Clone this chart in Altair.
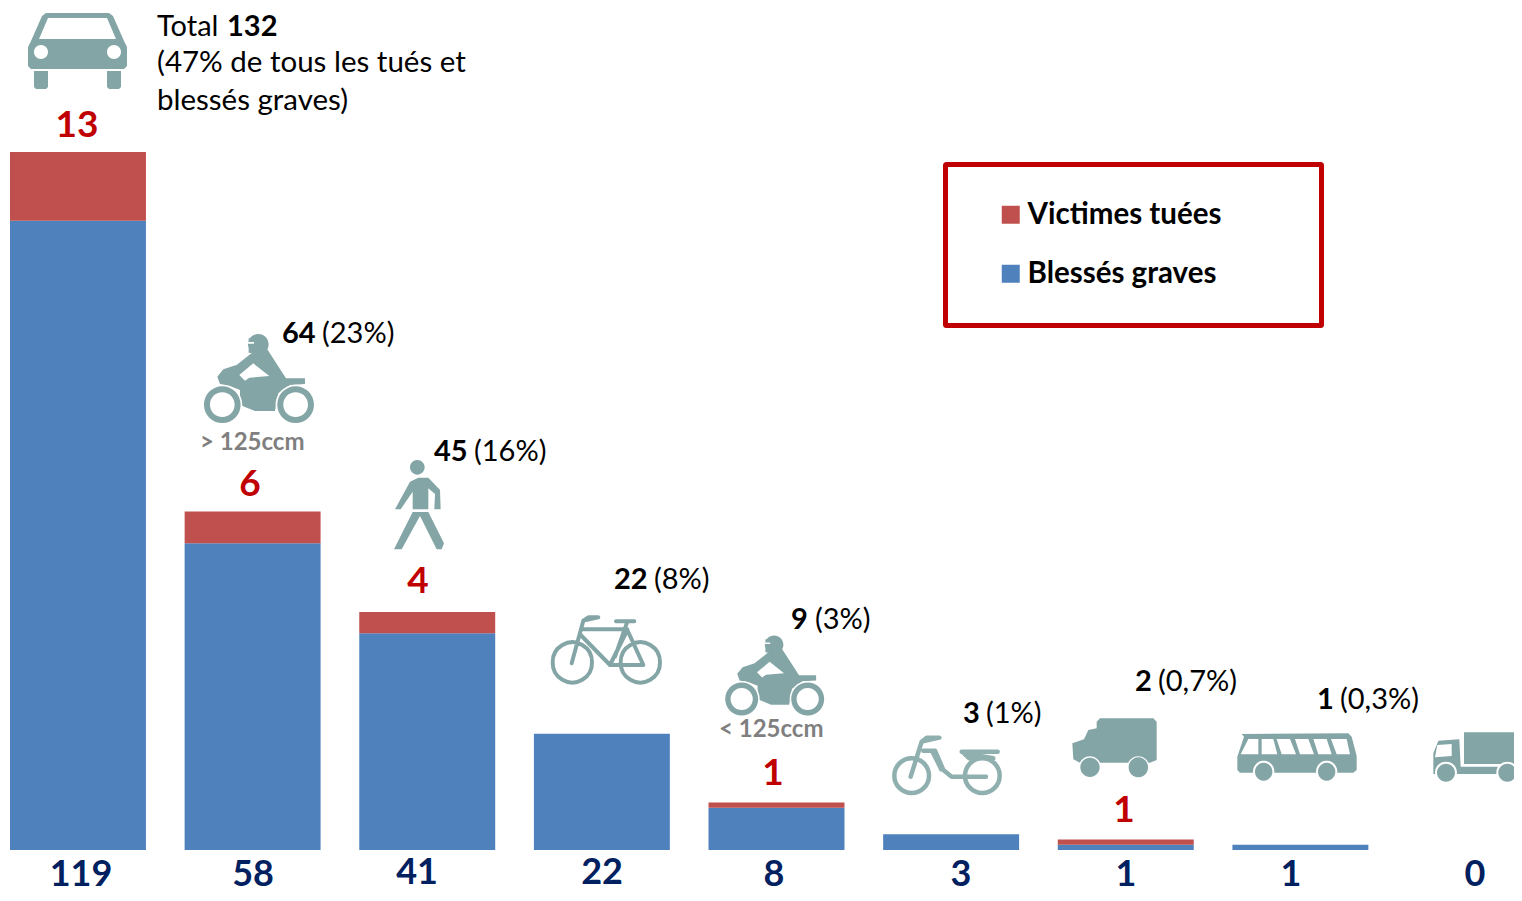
import altair as alt
import pandas as pd

# ---------- data ----------
categories = ["Voiture", "Moto >125ccm", "Piétons", "Vélo", "Moto <125ccm",
              "Cyclomoteur", "Camionnette", "Bus", "Camion"]
blesses = [119, 58, 41, 22, 8, 3, 1, 1, 0]
tues = [13, 6, 4, 0, 1, 0, 1, 0, 0]
totaux = [132, 64, 45, 22, 9, 3, 2, 1, 0]
parts = ["47%", "23%", "16%", "8%", "3%", "1%", "0,7%", "0,3%", ""]
series = ["Victimes tuées", "Blessés graves"]
series_colors = ["#C0504D", "#4F81BD"]

TEAL = "#84A5A6"
TEAL2 = "#90AFAF"
RED = "#C00000"
NAVY = "#002060"
GREY = "#7F7F7F"
FONT = "Lato"
ONE = alt.Data(values=[{"a": 0}])

# ---------- bars ----------
rows = []
for c, b, t in zip(categories, blesses, tues):
    rows.append({"cat": c, "serie": series[1], "n": b, "rang": 0})
    rows.append({"cat": c, "serie": series[0], "n": t, "rang": 1})
df = pd.DataFrame(rows)

bars = alt.Chart(df).mark_bar(opacity=1).encode(
    x=alt.X("cat:N", sort=categories, axis=None,
            scale=alt.Scale(range=[2, 1535], paddingInner=0.2215, paddingOuter=0)),
    y=alt.Y("n:Q", stack="zero", axis=None,
            scale=alt.Scale(domain=[-8.132, 159.23], nice=False, zero=False)),
    order=alt.Order("rang:Q"),
    color=alt.Color("serie:N",
                    scale=alt.Scale(domain=series, range=series_colors),
                    legend=alt.Legend(title=None, orient="none", legendX=988, legendY=192,
                                      padding=0, symbolType="square", symbolSize=324,
                                      symbolStrokeWidth=0, symbolOpacity=1, labelOffset=2,
                                      labelFont=FONT, labelFontSize=29.5, labelFontWeight="bold",
                                      labelColor="#000000", rowPadding=28, labelLimit=400)),
)


# ---------- helpers ----------
def txt(x, y, s, size=29, weight="normal", color="#000000", align="left"):
    return alt.Chart(ONE).mark_text(
        text=s, font=FONT, fontSize=size, fontWeight=weight, color=color,
        align=align, baseline="alphabetic",
    ).encode(x=alt.value(x - 8), y=alt.value(y - 8))


def poly(pts, f):
    return "M" + "L".join(f"{f(p)[0]:.2f},{f(p)[1]:.2f}" for p in pts) + "Z"


def disk(c, r, f, k, ccw=False):
    x, y = f(c)
    r = r * k
    s = 0 if ccw else 1
    return (f"M{x - r:.2f},{y:.2f}A{r:.2f},{r:.2f} 0 1 {s} {x + r:.2f},{y:.2f}"
            f"A{r:.2f},{r:.2f} 0 1 {s} {x - r:.2f},{y:.2f}Z")


def shape(path, color, stroke=None):
    if stroke:
        m = alt.Chart(ONE).mark_point(shape=path, size=4, filled=False, opacity=1, color=color,
                                      strokeWidth=stroke, strokeCap="round", strokeJoin="round")
    else:
        m = alt.Chart(ONE).mark_point(shape=path, size=4, filled=True, opacity=1, color=color,
                                      strokeWidth=0)
    return m.encode(x=alt.value(-8), y=alt.value(-8))


def crop(ox, oy):
    return lambda p: (ox + p[0] / 3, oy + p[1] / 3)


icons = []

# car
g = lambda p: p
icons.append(shape(poly([(46, 13), (109, 13), (113, 16), (124, 41), (127, 47), (127, 66), (124, 69),
                         (31, 69), (28, 66), (28, 47), (31, 41), (42, 16)], g)
                   + poly([(34, 71), (48, 71), (48, 87), (46, 89), (36, 89), (34, 87)], g)
                   + poly([(107, 71), (121, 71), (121, 87), (119, 89), (109, 89), (107, 87)], g), TEAL))
icons.append(shape(poly([(39, 39), (48, 18), (107, 18), (116, 39)], g)
                   + disk((41, 52), 7, g, 1) + disk((114, 52), 7, g, 1), "#FFFFFF"))


# motorbikes
def moto(x0, y0, s):
    f = lambda p: (x0 + (p[0] - 97) * s / 3, y0 + (p[1] - 284) * s / 3)
    k = s / 3
    body = poly([(190, 125), (232, 118), (272, 180), (288, 205), (345, 205), (345, 222), (300, 225),
                 (265, 250), (255, 303), (195, 303), (150, 285), (150, 240), (120, 228), (90, 222),
                 (82, 200), (100, 178), (130, 168), (140, 165)], f)
    helmet = disk((205, 103), 31, f, k) + poly([(176, 85), (190, 85), (190, 130), (176, 128)], f)
    holes = (poly([(148, 195), (190, 160), (238, 198), (178, 203), (165, 212)], f)
             + poly([(172, 96), (192, 96), (192, 101), (172, 101)], f)
             + disk((97, 284), 60, f, k) + disk((317, 284), 60, f, k))
    rings = (disk((97, 284), 55, f, k) + disk((97, 284), 37, f, k, True)
             + disk((317, 284), 55, f, k) + disk((317, 284), 37, f, k, True))
    return [shape(body + helmet, TEAL), shape(holes, "#FFFFFF"), shape(rings, TEAL)]


icons += moto(222.3, 404.7, 1.0)
icons += moto(741.7, 699.0, 0.9)

# pedestrian
g = crop(190, 310)
icons.append(shape(
    disk((682, 472), 22, g, 1 / 3)
    + poly([(685, 503), (715, 503), (750, 540), (752, 598), (733, 598), (735, 552), (715, 535),
            (715, 598), (668, 598), (668, 545), (632, 598), (615, 598), (660, 515)], g)
    + poly([(668, 606), (715, 606), (762, 700), (755, 718), (740, 718), (690, 618), (635, 718), (612, 718)], g),
    TEAL))

# bicycle
g = crop(540, 560)
icons.append(shape(
    disk((97, 307), 59, g, 1 / 3) + disk((301, 307), 59, g, 1 / 3)
    + poly([(175, 172), (145, 172), (130, 182), (95, 310), (130, 182)], g)
    + poly([(130, 208), (262, 208)], g) + poly([(122, 225), (210, 315), (310, 315), (262, 210), (210, 315)], g)
    + poly([(262, 185), (225, 290)], g) + poly([(228, 184), (283, 184)], g),
    TEAL, stroke=4))

# moped
g = crop(880, 660)
icons.append(shape(
    disk((95, 347), 52, g, 1 / 3) + disk((307, 347), 52, g, 1 / 3)
    + poly([(178, 233), (140, 233), (125, 245), (92, 350), (125, 245)], g)
    + poly([(130, 272), (165, 272), (190, 330), (215, 350), (318, 350), (215, 350), (190, 330), (165, 272)], g)
    + poly([(245, 275), (353, 275)], g) + poly([(252, 280), (268, 295), (340, 295)], g),
    TEAL2, stroke=4.5))
icons.append(shape(poly([(150, 275), (172, 275), (195, 330), (180, 335)], g), TEAL2))

# van
g = crop(880, 660)
icons.append(shape(poly([(650, 185), (660, 175), (820, 175), (830, 185), (830, 300), (810, 308), (600, 308),
                         (580, 298), (577, 250), (612, 238), (625, 210), (650, 205)], g), TEAL))
icons.append(shape(disk((630, 322), 33, g, 1 / 3) + disk((775, 322), 33, g, 1 / 3), "#FFFFFF"))
icons.append(shape(disk((630, 322), 29, g, 1 / 3) + disk((775, 322), 29, g, 1 / 3), TEAL))

# bus
g = crop(1220, 670)
icons.append(shape(poly([(65, 192), (385, 190), (395, 200), (410, 258), (410, 300), (400, 308), (60, 308),
                         (52, 300), (52, 260), (72, 200)], g), TEAL))
icons.append(shape(
    poly([(85, 207), (115, 207), (115, 253), (62, 253)], g)
    + poly([(125, 207), (160, 207), (172, 253), (125, 253)], g)
    + poly([(170, 207), (210, 207), (228, 253), (185, 253)], g)
    + poly([(225, 207), (265, 207), (282, 253), (240, 253)], g)
    + poly([(280, 207), (320, 207), (335, 253), (295, 253)], g)
    + poly([(333, 207), (380, 207), (390, 253), (350, 253)], g)
    + disk((131, 305), 32, g, 1 / 3) + disk((320, 305), 32, g, 1 / 3), "#FFFFFF"))
icons.append(shape(disk((131, 305), 26, g, 1 / 3) + disk((320, 305), 26, g, 1 / 3), TEAL))

# truck
g = crop(1220, 670)
icons.append(shape(
    poly([(732, 187), (960, 187), (960, 282), (732, 282)], g)
    + poly([(655, 212), (718, 208), (722, 290), (960, 290), (960, 312), (640, 312), (640, 250)], g), TEAL))
icons.append(shape(poly([(652, 225), (695, 222), (695, 258), (645, 262)], g)
                   + disk((678, 308), 33, g, 1 / 3) + disk((862, 308), 33, g, 1 / 3), "#FFFFFF"))
icons.append(shape(disk((678, 308), 27, g, 1 / 3) + disk((862, 308), 27, g, 1 / 3), TEAL))

# ---------- text ----------
texts = [
    txt(157, 36, "Total"), txt(227, 36, str(totaux[0]), weight="bold"),
    txt(157, 72, f"({parts[0]} de tous les tués et", size=29.5),
    txt(157, 110, "blessés graves)", size=29.5),
    txt(200, 450, "> 125ccm", size=24, weight="bold", color=GREY),
    txt(719, 737, "< 125ccm", size=24, weight="bold", color=GREY),
]

# bold count + percentage in brackets
count_pos = [None, (282, 343, 322), (434, 461, 474), (614, 589, 654), (791, 629, 815),
             (963, 723, 986), (1135, 691, 1158), (1317, 709, 1340)]
for i, pos in enumerate(count_pos):
    if pos:
        texts.append(txt(pos[0], pos[1], str(totaux[i]), weight="bold"))
        texts.append(txt(pos[2], pos[1], f"({parts[i]})"))

# killed, in red, above the stack
red_pos = [(77, 137), (250, 496), (418, 593), None, (773, 785), None, (1124, 822)]
for i, pos in enumerate(red_pos):
    if pos:
        texts.append(txt(pos[0], pos[1], str(tues[i]), size=37, weight="bold", color=RED, align="center"))

# seriously injured, in navy, below the axis
low_pos = [(81, 886), (253, 886), (417, 884), (602, 884), (774, 886),
           (961, 886), (1126, 886), (1291, 886), (1475, 886)]
for i, pos in enumerate(low_pos):
    texts.append(txt(pos[0], pos[1], str(blesses[i]), size=36, weight="bold", color=NAVY, align="center"))

box = alt.Chart(ONE).mark_rect(fill="#FFFFFF", fillOpacity=0, stroke=RED, strokeWidth=5, cornerRadius=1).encode(
    x=alt.value(945.5 - 8), x2=alt.value(1321.5 - 8), y=alt.value(164.5 - 8), y2=alt.value(325.5 - 8))

chart = alt.layer(bars, box, *icons, *texts).properties(
    width=1506, height=885, padding=0, autosize=alt.AutoSizeParams(type="none"),
).configure_view(stroke=None)

chart.save("out.html", embed_options={"renderer": "svg", "actions": False})
